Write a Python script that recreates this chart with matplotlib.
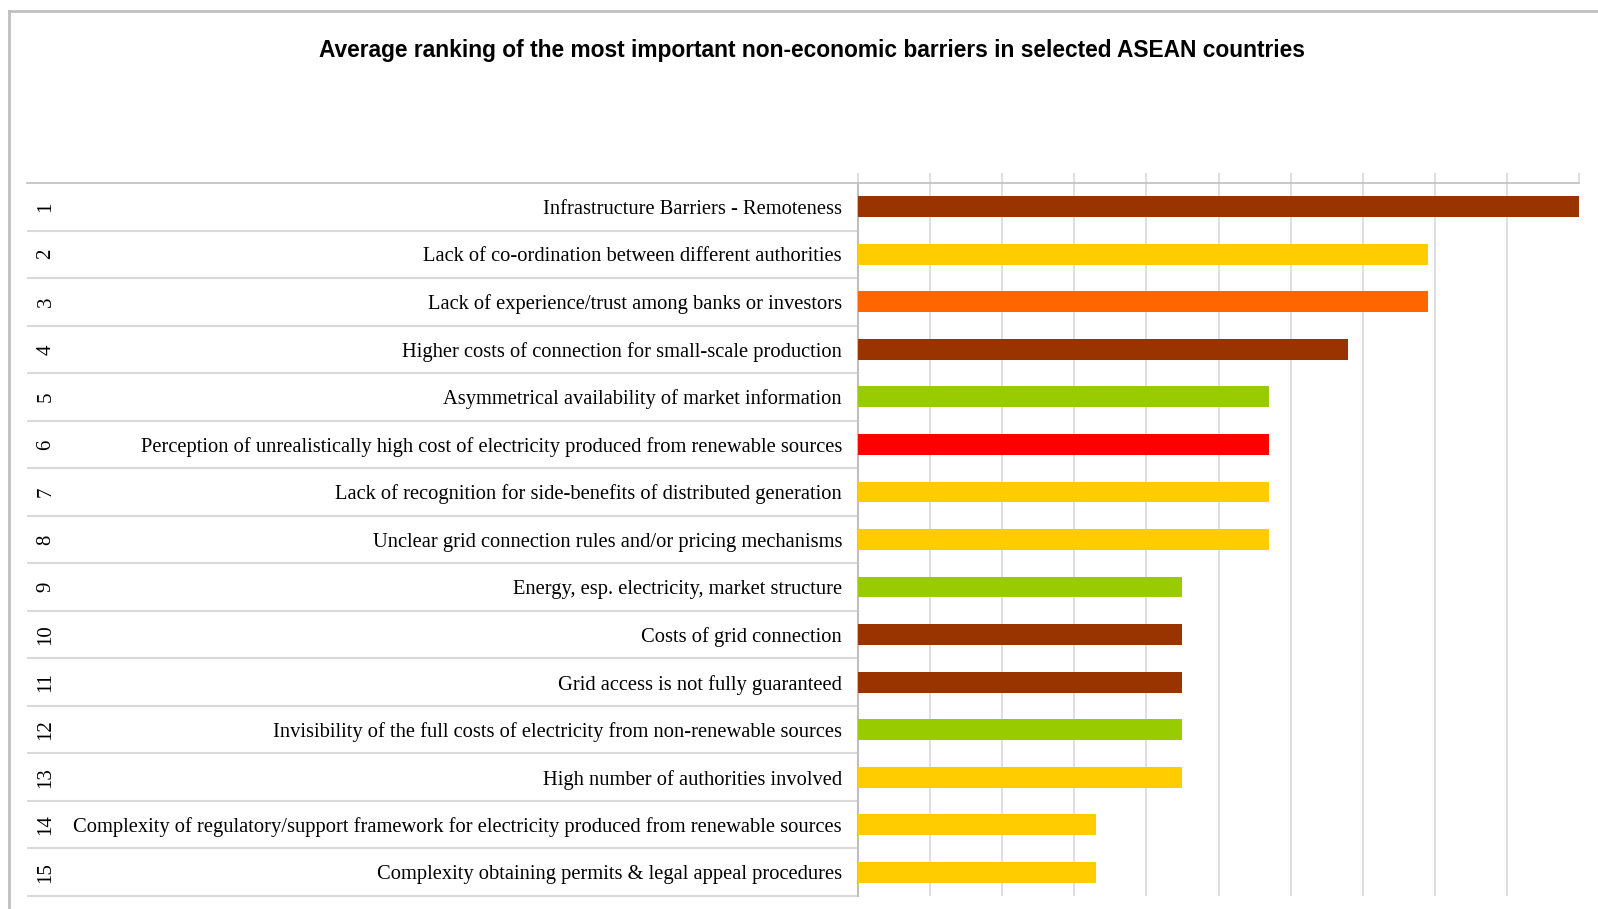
import matplotlib
matplotlib.use("Agg")
import matplotlib.pyplot as plt
from matplotlib.lines import Line2D

# ---------------- data ----------------
ranks = [str(i) for i in range(1, 16)]
barriers = [
    "Infrastructure Barriers - Remoteness",
    "Lack of co-ordination between different authorities",
    "Lack of experience/trust among banks or investors",
    "Higher costs of connection for small-scale production",
    "Asymmetrical availability of market information",
    "Perception of unrealistically high cost of electricity produced from renewable sources",
    "Lack of recognition for side-benefits of distributed generation",
    "Unclear grid connection rules and/or pricing mechanisms",
    "Energy, esp. electricity, market structure",
    "Costs of grid connection",
    "Grid access is not fully guaranteed",
    "Invisibility of the full costs of electricity from non-renewable sources",
    "High number of authorities involved",
    "Complexity of regulatory/support framework for electricity produced from renewable sources",
    "Complexity obtaining permits & legal appeal procedures",
]
scores = [10.0, 7.9, 7.9, 6.8, 5.7, 5.7, 5.7, 5.7, 4.5, 4.5, 4.5, 4.5, 4.5, 3.3, 3.3]
colors = ["#993300", "#FFCC00", "#FF6600", "#993300", "#99CC00", "#FF0000",
          "#FFCC00", "#FFCC00", "#99CC00", "#993300", "#993300", "#99CC00",
          "#FFCC00", "#FFCC00", "#FFCC00"]
title = "Average ranking of the most important non-economic barriers in selected ASEAN countries"

# ---------------- layout ----------------
W, H = 1598, 909
fig = plt.figure(figsize=(W / 100, H / 100), dpi=100)
fig.patch.set_facecolor("white")

ax_l, ax_r, ax_t, ax_b = 858, 1579, 183, 896
ax = fig.add_axes([ax_l / W, 1 - ax_b / H, (ax_r - ax_l) / W, (ax_b - ax_t) / H])

n = len(barriers)
y = list(range(n))
ax.barh(y, scores, height=0.44, color=colors, zorder=3)
ax.set_xlim(0, 10)
ax.set_ylim(n - 0.5, -0.5)

grid_c = "#d9d9d9"
axis_c = "#bfbfbf"
ax.vlines(range(1, 10), -0.5, n - 0.5, color=grid_c, lw=1.2, zorder=1)

for s in ["right", "bottom", "top"]:
    ax.spines[s].set_visible(False)
ax.spines["left"].set_color(axis_c)
ax.spines["left"].set_linewidth(1.5)

ax.xaxis.tick_top()
ax.set_xticks(range(0, 11))
ax.tick_params(axis="x", direction="out", length=7.5, width=1.2, color=grid_c,
               labeltop=False, labelbottom=False)

ax.set_yticks(y)
ax.set_yticklabels(barriers, fontfamily="Liberation Serif", fontsize=14.8)
ax.tick_params(axis="y", length=0, pad=11.5, labelcolor="black")

# table-like separators on the category side and top value axis line
left_x = (27 - ax_l) / (ax_r - ax_l)
ytr = ax.get_yaxis_transform()
bounds = [i + 0.5 for i in range(n)]
ax.hlines(bounds, left_x, 0, transform=ytr, color=grid_c, lw=1.5, clip_on=False)
ax.plot([left_x, 1], [-0.5, -0.5], transform=ytr, color=axis_c, lw=1.2, clip_on=False)

# rank numbers (rotated)
rank_x = (46 - ax_l) / (ax_r - ax_l)
for yi, r in zip(y, ranks):
    ax.text(rank_x, yi, r, transform=ytr, rotation=90, ha="center", va="center",
            fontfamily="Liberation Serif", fontsize=15, color="black")

# title
fig.text(812 / W, 1 - 51 / H, title, ha="center", va="center",
         fontfamily="Liberation Sans", fontweight="bold", fontsize=16.4, color="black")

# outer chart frame (left and top edges visible)
fr_c = "#c0c0c0"
fig.add_artist(Line2D([9 / W, 9 / W], [0, 1 - 11 / H], color=fr_c, lw=2, transform=fig.transFigure))
fig.add_artist(Line2D([9 / W, 1], [1 - 11 / H, 1 - 11 / H], color=fr_c, lw=2, transform=fig.transFigure))

fig.savefig("out.png", dpi=100, facecolor="white")
